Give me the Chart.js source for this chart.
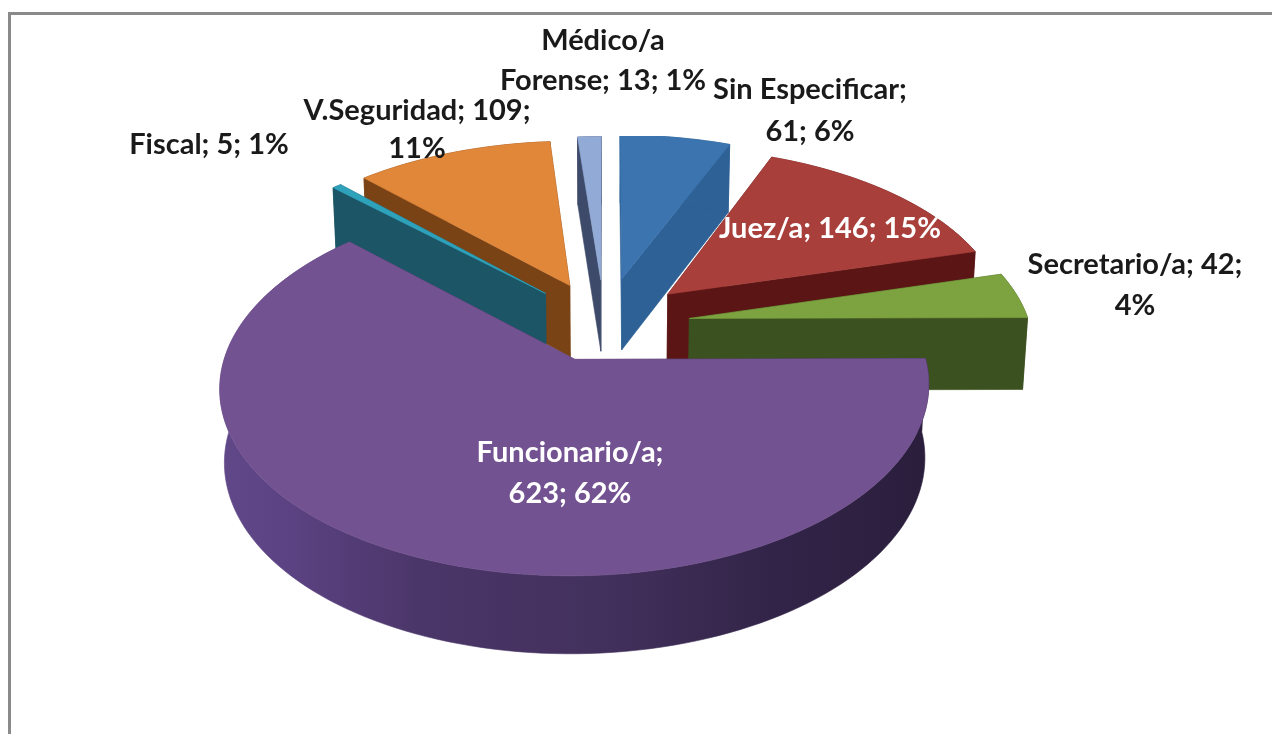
<!DOCTYPE html>
<html><head><meta charset="utf-8">
<style>html,body{margin:0;padding:0;background:#fff}canvas{display:block;filter:blur(.5px)}</style>
<script src="https://cdn.jsdelivr.net/npm/chart.js@4"></script>
</head><body><canvas id="c" width="1272" height="734"></canvas>
<script>
const categories = ['Sin Especificar','Juez/a','Secretario/a','Funcionario/a','Fiscal','V.Seguridad','Médico/a Forense'];
const values = [61,146,42,623,5,109,13];

const topColors  = ['#3b74ae','#a93f3b','#7ca33f','#735291','#2fa2bb','#e0873a','#92abd6'];
const sideColors = ['#2e6195','#5c1515','#3c5120',null,'#1c5566','#7a4315','#3e4a69'];
const purpleWall = [[0,'#614889'],[.1,'#5b4282'],[.28,'#4b3669'],[.55,'#42305c'],[.78,'#322448'],[1,'#2a1e3c']];
const drawOrder  = [0,6,5,4,1,2,3];
const sliceNudge = [[0,-2],[2,1],[3,4],[-1,0],[-6,2],[-5,2],[-3,0]];

const view = {cx:607, cy:320, a:340, b:174, p:.14, depth:72, clipTop:136};
const labelLayout = [
  {x:810, y:[99,141],  brk:'Especificar;', color:'#1a1a1a'},
  {x:830, y:[238],     brk:null,           color:'#fff'},
  {x:1135,y:[274,315], brk:'42;',          color:'#1a1a1a'},
  {x:570, y:[462,503], brk:'/a;',          color:'#fff'},
  {x:209, y:[154],     brk:null,           color:'#1a1a1a'},
  {x:417, y:[120,158], brk:'109;',         color:'#1a1a1a'},
  {x:603, y:[50,90],   brk:'Médico/a',     color:'#1a1a1a'}
];

const total = values.reduce((s,v)=>s+v,0);
const project = (X,Y,z,n)=>{
  const w = 1 - view.p*Y;
  const sx = view.cx + view.a*X/w, sy = view.cy + view.b*Y/w;
  if(!z) return [sx+n[0],sy+n[1]];
  return [view.cx + (sx-view.cx)*.988 + n[0], sy + view.depth*(1+(1/w-1)*.4) + n[1]];
};
const poly = (ctx,pts,fill)=>{
  ctx.beginPath();
  pts.forEach((p,i)=> i?ctx.lineTo(p[0],p[1]):ctx.moveTo(p[0],p[1]));
  ctx.closePath();
  ctx.fillStyle = fill; ctx.strokeStyle = fill; ctx.lineWidth=.6;
  ctx.fill(); ctx.stroke();
};
const pie3d = {
  id:'pie3d',
  beforeDatasetDraw(chart,args){
    const ctx = chart.ctx, arcs = args.meta.data;
    ctx.save();
    ctx.beginPath(); ctx.rect(0,view.clipTop,chart.width,chart.height-view.clipTop); ctx.clip();
    drawOrder.forEach(i=>{
      const el = arcs[i], R = el.outerRadius, off = el.options.offset/R, n = sliceNudge[i];
      const mid = (el.startAngle+el.endAngle)/2;
      const ax = off*Math.cos(mid), ay = off*Math.sin(mid);
      const steps = Math.max(2,Math.ceil((el.endAngle-el.startAngle)/.03));
      const rim = [];
      for(let k=0;k<=steps;k++){
        const t = el.startAngle+(el.endAngle-el.startAngle)*k/steps;
        rim.push([ax+Math.cos(t),ay+Math.sin(t)]);
      }
      const topRim = rim.map(q=>project(q[0],q[1],false,n));
      const botRim = rim.map(q=>project(q[0],q[1],true,n)).reverse();
      const apexT = project(ax,ay,false,n), apexB = project(ax,ay,true,n);
      let side = sideColors[i];
      if(!side){
        const xs = topRim.map(q=>q[0]);
        const g = ctx.createLinearGradient(Math.min(...xs),0,Math.max(...xs),0);
        purpleWall.forEach(s=>g.addColorStop(s[0],s[1]));
        side = g;
      }
      poly(ctx,[apexT,topRim[0],botRim[botRim.length-1],apexB],side);
      poly(ctx,[apexT,topRim[topRim.length-1],botRim[0],apexB],side);
      poly(ctx,topRim.concat(botRim),side);
      poly(ctx,[apexT].concat(topRim),el.options.backgroundColor);
    });
    ctx.restore();
    return false;
  },
  afterDraw(chart){
    const ctx = chart.ctx;
    ctx.save();
    ctx.fillStyle='#8a8a8a';
    ctx.fillRect(8,12,chart.width-8,3);
    ctx.fillRect(8,12,3,chart.height-12);
    ctx.font = '700 29px Lato, "Open Sans", sans-serif';
    ctx.textAlign='center'; ctx.textBaseline='alphabetic';
    categories.forEach((c,i)=>{
      const L = labelLayout[i];
      const txt = `${c}; ${values[i]}; ${Math.round(values[i]/total*100+1e-9)}%`;
      const lines = L.brk ? txt.replace(L.brk,L.brk+'\n').split('\n').map(s=>s.trim()) : [txt];
      ctx.fillStyle = L.color;
      lines.forEach((s,k)=>ctx.fillText(s,L.x,L.y[k]));
    });
    ctx.restore();
  }
};
new Chart(document.getElementById('c'),{
  type:'pie',
  data:{labels:categories,datasets:[{data:values,backgroundColor:topColors,borderWidth:0,offset:71,radius:300}]},
  options:{responsive:false,animation:false,plugins:{legend:{display:false},tooltip:{enabled:false}}},
  plugins:[pie3d]
});
</script></body></html>
